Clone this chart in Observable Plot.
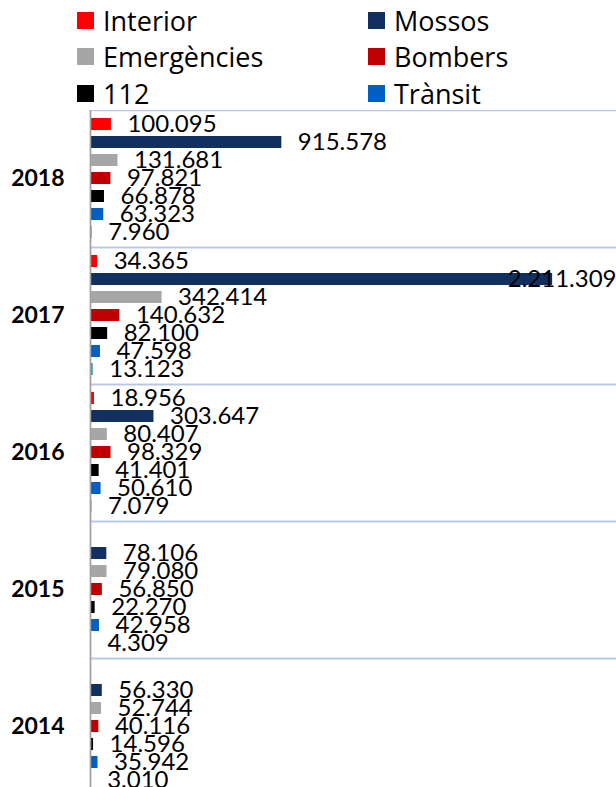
<!DOCTYPE html>
<html>
<head>
<meta charset="utf-8">
<script src="https://cdn.jsdelivr.net/npm/d3@7"></script>
<script src="https://cdn.jsdelivr.net/npm/@observablehq/plot@0.6"></script>
<style>
  html, body { margin: 0; padding: 0; background: #fff; overflow: hidden; }
  #legend { position: relative; width: 616px; height: 110px; font-family: "Open Sans", sans-serif; }
  .item { position: absolute; display: flex; align-items: center; height: 17px; }
  .sw { width: 17px; height: 17px; margin-right: 9px; }
  .lb { font-size: 27px; line-height: 17px; color: #000; white-space: nowrap; }
  #chart svg [aria-label^="fy-axis"] text { font-weight: bold; font-size: 23px; }
</style>
</head>
<body>
<div id="legend"></div>
<div id="chart"></div>
<script>
const years = ["2018", "2017", "2016", "2015", "2014"];
const series = ["Interior", "Mossos", "Emergències", "Bombers", "112", "Trànsit", "Altres"];
const colors = ["#FF0000", "#12305F", "#A6A6A6", "#C00000", "#000000", "#005FC0", "#2E9DB2"];
const legendSeries = ["Interior", "Mossos", "Emergències", "Bombers", "112", "Trànsit"];

const interior    = [100095, 34365, 18956, null, null];
const mossos      = [915578, 2211309, 303647, 78106, 56330];
const emergencies = [131681, 342414, 80407, 79080, 52744];
const bombers     = [97821, 140632, 98329, 56850, 40116];
const n112        = [66878, 82100, 41401, 22270, 14596];
const transit     = [63323, 47598, 50610, 42958, 35942];
const altres      = [7960, 13123, 7079, 4309, 3010];

const valuesBySeries = [interior, mossos, emergencies, bombers, n112, transit, altres];
const rows = [];
years.forEach((y, i) => {
  series.forEach((s, j) => {
    const v = valuesBySeries[j][i];
    if (v != null) rows.push({year: y, series: s, value: v});
  });
});

const locale = d3.formatLocale({decimal: ",", thousands: ".", grouping: [3], currency: ["", "€"]});
const fmt = locale.format(",d");

// Legend
const legend = document.getElementById("legend");
legendSeries.forEach((s, i) => {
  const row = Math.floor(i / 2), col = i % 2;
  const item = document.createElement("div");
  item.className = "item";
  item.style.left = (77 + col * 291) + "px";
  item.style.top = (11.5 + row * 36.8) + "px";
  const sw = document.createElement("div");
  sw.className = "sw";
  sw.style.background = colors[series.indexOf(s)];
  const lb = document.createElement("div");
  lb.className = "lb";
  lb.textContent = s;
  item.appendChild(sw); item.appendChild(lb);
  legend.appendChild(item);
});

const big = 2000000;
const chart = Plot.plot({
  width: 616,
  height: 700,
  marginLeft: 90,
  marginRight: 0,
  marginTop: 0,
  marginBottom: 15,
  style: {fontFamily: "Lato, sans-serif", fontSize: "24px", background: "#fff"},
  facet: {data: rows, y: "year"},
  fy: {domain: years, padding: 0, axis: "left", label: null, tickSize: 0, tickPadding: 26},
  x: {domain: [0, 2517000], axis: null},
  y: {domain: series, paddingInner: 0.31, paddingOuter: 0.28, axis: null},
  color: {domain: series, range: colors},
  marks: [
    Plot.frame({stroke: "#B4C7E7", strokeWidth: 1.5, insetRight: -3}),
    Plot.barX(rows, {x: "value", y: "series", fill: "series"}),
    Plot.text(rows, {filter: d => d.value < big, x: "value", y: "series", text: d => fmt(d.value), dx: 16, textAnchor: "start", fontSize: 24, fill: "#000"}),
    Plot.text(rows, {filter: d => d.value >= big, y: "series", frameAnchor: "right", text: d => fmt(d.value), textAnchor: "end", fontSize: 24, fill: "#000"}),
    Plot.ruleX([0], {stroke: "#A0A0A0", strokeWidth: 1.5})
  ]
});
document.getElementById("chart").appendChild(chart);
</script>
</body>
</html>
